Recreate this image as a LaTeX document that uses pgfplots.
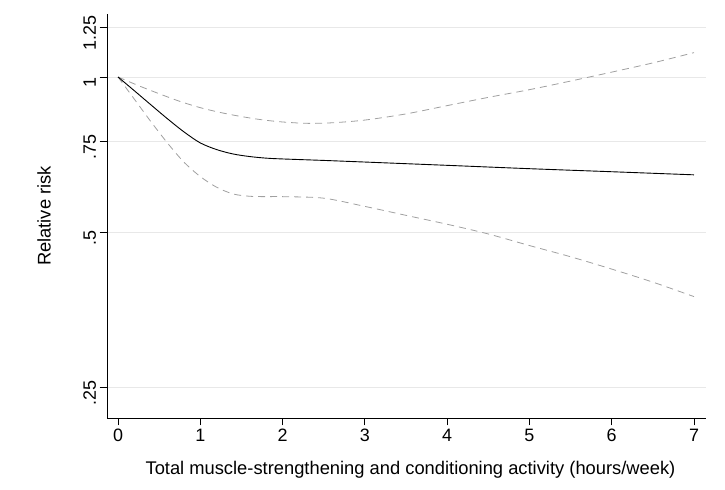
\documentclass[border=0pt]{standalone}
\usepackage{pgfplots}
\pgfplotsset{compat=1.18}
\usepackage{fontspec}
\setmainfont{Liberation Sans}
\definecolor{gridc}{RGB}{232,232,232}
\definecolor{ci}{RGB}{160,160,160}
\begin{document}
\begin{tikzpicture}
\useasboundingbox (0,0) rectangle (725bp,490bp);
\begin{axis}[
  at={(107bp,72bp)}, anchor=south west,
  width=599bp, height=404bp, scale only axis,
  ymode=log,
  xmin=-0.134, xmax=7.146, ymin=0.218, ymax=1.325,
  axis lines*=left,
  axis line style={black, line width=0.8bp},
  tick align=outside,
  major tick length=7.5bp,
  tick style={black, line width=0.8bp},
  xtick={0,1,2,3,4,5,6,7},
  xticklabels={0,1,2,3,4,5,6,7},
  ytick={0.25,0.5,0.75,1,1.25},
  yticklabels={.25,.5,.75,1,1.25},
  minor ytick={},
  /pgf/number format/assume math mode=true,
  ymajorgrids,
  grid style={gridc, line width=0.8bp},
  tick label style={font=\fontsize{18}{20}\selectfont},
  yticklabel style={rotate=90, anchor=south, xshift=-6bp},
  xlabel={Total muscle-strengthening and conditioning activity (hours/week)},
  ylabel={Relative risk},
  every axis x label/.style={at={(axis description cs:0.5,0)}, xshift=4bp, yshift=-52bp, anchor=center, font=\fontsize{18.4}{20}\selectfont},
  every axis y label/.style={at={(axis description cs:0,0.5)}, xshift=-63bp, rotate=90, anchor=center, font=\fontsize{18.4}{20}\selectfont},
  clip=false,
]
% upper CI
\addplot[ci, line width=0.8bp, dash pattern=on 7bp off 5bp, smooth, tension=0.5] coordinates {
(0,1.000) (0.25,0.962) (0.5,0.928) (0.75,0.897) (1.0,0.872) (1.25,0.853) (1.5,0.838) (1.75,0.826) (2.0,0.818) (2.3,0.813) (2.6,0.815) (3.0,0.825) (3.5,0.848) (4.0,0.880) (4.5,0.913) (5.0,0.945) (5.5,0.982) (6.0,1.022) (6.5,1.065) (7.0,1.115)
};
% lower CI
\addplot[ci, line width=0.8bp, dash pattern=on 7bp off 5bp, smooth, tension=0.5] coordinates {
(0,1.000) (0.2,0.905) (0.4,0.819) (0.6,0.745) (0.8,0.684) (1.0,0.641) (1.2,0.611) (1.4,0.593) (1.6,0.587) (1.8,0.586) (2.0,0.586) (2.5,0.582) (3.0,0.561) (3.5,0.539) (4.0,0.518) (4.5,0.496) (5.0,0.471) (5.5,0.448) (6.0,0.424) (6.5,0.400) (7.0,0.375)
};
% estimate
\addplot[black, line width=0.9bp, smooth, tension=0.5] coordinates {
(0,1.000) (0.2,0.940) (0.4,0.883) (0.6,0.830) (0.8,0.783) (1.0,0.745) (1.2,0.723) (1.4,0.709) (1.6,0.701) (1.8,0.696) (2.0,0.6935) (2.5,0.689) (3.0,0.684) (4.0,0.674) (5.0,0.664) (6.0,0.655) (7.0,0.646)
};
\end{axis}
\end{tikzpicture}
\end{document}
